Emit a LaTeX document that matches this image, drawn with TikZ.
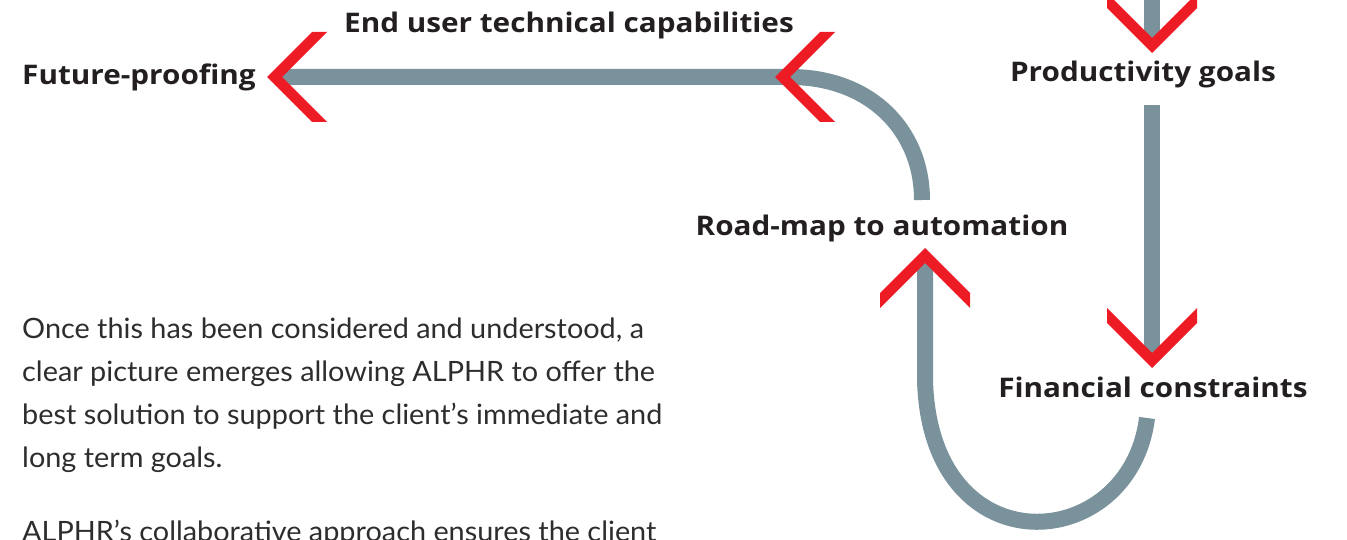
\documentclass[tikz,border=0pt]{standalone}
\usepackage{fontspec}
\setmainfont{Lato}
\newfontfamily\headfont[FakeStretch=1.10]{Open Sans}
\newfontfamily\copyfont[FakeStretch=1.03]{Lato}
\definecolor{flowgray}{HTML}{7A929B}
\definecolor{arrowred}{HTML}{ED1C24}
\definecolor{ink}{HTML}{231F20}
\definecolor{bodyink}{HTML}{2E2C2D}
\tikzset{
  flow/.style={draw=flowgray, line width=16pt},
  steplabel/.style={font=\headfont\bfseries\fontsize{27}{32}\selectfont, text=ink, inner sep=0pt},
  bodytext/.style={font=\copyfont\fontsize{28}{42.7}\selectfont, text=bodyink, inner sep=0pt, align=left},
  chev/.pic={\fill[arrowred] (0,0) -- (-45,45) -- (-60,45) -- (-15,0) -- (-60,-45) -- (-45,-45) -- cycle;}
}
\begin{document}
\begin{tikzpicture}[x=1pt,y=-1pt]
\useasboundingbox (0,0) rectangle (1347,540);
\clip (0,0) rectangle (1347,540);

% labels
\node[steplabel, anchor=base] (eu) at (569,33) {End user technical capabilities};
\node[steplabel, anchor=base west] (fp) at (22,85) {Future-proofing};
\node[steplabel, anchor=base] (pg) at (1143,82) {Productivity goals};
\node[steplabel, anchor=base] (ra) at (882,236) {Road-map to automation};
\node[steplabel, anchor=base] (fc) at (1153,397) {Financial constraints};

% line ends and arrow tips
\coordinate (topEdge) at (1152,-20);
\coordinate (pgIn) at (1152,38);
\coordinate (pgTip) at (1152,53);
\coordinate (pgOut) at (1152,105);
\coordinate (fcIn) at (1152,353);
\coordinate (fcTip) at (1152,368);
\coordinate (fcOut) at (1147,418);
\coordinate (raIn) at (925,263);
\coordinate (raTip) at (925,248);
\coordinate (raOut) at (922,200);
\coordinate (euTip) at (775,77);
\coordinate (fpIn) at (282,77);
\coordinate (fpTip) at (267,77);

% connectors
\draw[flow] (topEdge) -- (pgIn);
\draw[flow] (pgOut) -- (fcIn);
\draw[flow] (fcOut) .. controls (1130,555) and (930,570) .. (925,380) -- (raIn);
\draw[flow] (raOut) .. controls (922,130) and (870,77) .. (790,77) -- (fpIn);

% arrowheads
\pic[rotate=-90] at (pgTip) {chev};
\pic[rotate=-90] at (fcTip) {chev};
\pic[rotate=90] at (raTip) {chev};
\pic[rotate=180] at (euTip) {chev};
\pic[rotate=180] at (fpTip) {chev};

% body copy
\node[bodytext, anchor=base west] (para1) at (22,467) {Once this has been considered and understood, a\\
clear picture emerges allowing ALPHR to offer the\\
best solution to support the client’s immediate and\\
long term goals.};
\node[bodytext, anchor=base west] (para2) at (22,541) {ALPHR’s collaborative approach ensures the client};
\end{tikzpicture}
\end{document}
